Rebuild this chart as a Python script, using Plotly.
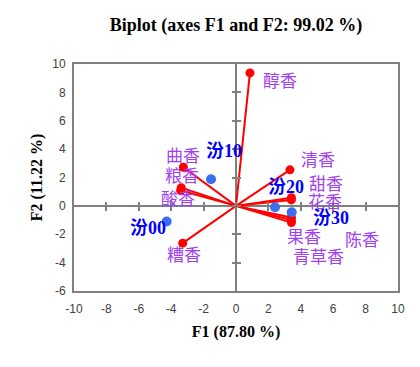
import plotly.graph_objects as go

var_names = ["醇香", "清香", "甜香", "花香", "果香", "陈香", "青草香", "曲香", "粮香", "酸香", "糟香"]
var_f1 = [0.86, 3.33, 3.42, 3.42, 3.42, 3.42, 3.42, -3.25, -3.38, -3.42, -3.29]
var_f2 = [9.37, 2.54, 0.58, 0.42, -0.82, -1.0, -1.18, 2.72, 1.28, 1.08, -2.63]

obs_names = ["汾00", "汾10", "汾20", "汾30"]
obs_f1 = [-4.28, -1.54, 2.41, 3.44]
obs_f2 = [-1.1, 1.88, -0.1, -0.45]

x_ticks = [-10, -8, -6, -4, -2, 0, 2, 4, 6, 8, 10]
x_tick_text = ["-10", "-8", "-6", "-4", "-2", "0", "2", "4", "6", "8", "10"]
y_ticks = [-6, -4, -2, 0, 2, 4, 6, 8, 10]
y_tick_text = ["-6", "-4", "-2", "0", "2", "4", "6", "8", "10"]

# label placement (offsets relative to point, in pixels)
var_label_shift = {
    "醇香": (30, -7), "清香": (28, 11), "甜香": (35, 15), "花香": (34, -1),
    "果香": (13, -18), "陈香": (71, -18), "青草香": (27, -33),
    "曲香": (0, 13), "粮香": (1, 13), "酸香": (-3, -7), "糟香": (1, -10),
}
obs_label_shift = {"汾00": (-19, -7), "汾10": (13, 28), "汾20": (11, 20), "汾30": (39, -6)}

AX = "#808080"
fig = go.Figure()

for n, x, y in zip(var_names, var_f1, var_f2):
    fig.add_trace(go.Scatter(x=[0, x], y=[0, y], mode="lines",
                             line=dict(color="#ff0000", width=2), hoverinfo="skip", showlegend=False))
fig.add_trace(go.Scatter(x=var_f1, y=var_f2, mode="markers",
                         marker=dict(color="#ff0000", size=9), showlegend=False))
fig.add_trace(go.Scatter(x=obs_f1, y=obs_f2, mode="markers",
                         marker=dict(color="#3c6ef0", size=10), showlegend=False))

for n, x, y in zip(var_names, var_f1, var_f2):
    dx, dy = var_label_shift[n]
    fig.add_annotation(x=x, y=y, text=n, showarrow=False, xshift=dx, yshift=dy,
                       font=dict(family="Noto Sans CJK SC", size=17, color="#a040f0"))
for n, x, y in zip(obs_names, obs_f1, obs_f2):
    dx, dy = obs_label_shift[n]
    fig.add_annotation(x=x, y=y, text="<b>" + n + "</b>", showarrow=False, xshift=dx, yshift=dy,
                       font=dict(family="Liberation Serif, Noto Sans CJK SC", size=18, color="#0000ff"))

tickfont = dict(family="Liberation Sans, Arial", size=12, color="#404040")
titlefont = dict(family="Liberation Serif, Times New Roman", size=16, color="black")

fig.update_layout(
    width=412, height=359,
    margin=dict(l=66, r=22, t=56, b=76),
    plot_bgcolor="white", paper_bgcolor="white",
    title=dict(text="<b>Biplot (axes F1 and F2: 99.02 %)</b>", x=0.5534, xanchor="center",
               y=0.954, yanchor="middle",
               font=dict(family="Liberation Serif, Times New Roman", size=18, color="black")),
    xaxis=dict(range=[-10, 10], tickvals=x_ticks, ticktext=x_tick_text, showgrid=False, zeroline=True,
               zerolinecolor=AX, zerolinewidth=2, showline=True, linecolor=AX, linewidth=2,
               mirror=True, ticks="outside", ticklen=6, tickcolor="rgba(0,0,0,0)",
               tickfont=tickfont, automargin=False,
               title=dict(text="<b>F1 (87.80 %)</b>", font=titlefont, standoff=10)),
    yaxis=dict(range=[-6, 10], tickvals=y_ticks, ticktext=y_tick_text, showgrid=False, zeroline=True,
               zerolinecolor=AX, zerolinewidth=2, showline=True, linecolor=AX, linewidth=2,
               mirror=True, ticks="outside", ticklen=4, tickcolor="rgba(0,0,0,0)",
               tickfont=tickfont, automargin=False,
               title=dict(text="<b>F2 (11.22 %)</b>", font=titlefont, standoff=6)),
    xaxis2=dict(overlaying="x", matches="x", anchor="free", position=0.375, tickvals=x_ticks[1:-1],
                ticks="outside", ticklen=4, tickwidth=2, tickcolor=AX, showticklabels=False,
                showgrid=False, zeroline=False, showline=False, automargin=False),
    xaxis3=dict(overlaying="x", matches="x", anchor="free", position=0.375, tickvals=x_ticks[1:-1],
                ticks="inside", ticklen=4, tickwidth=2, tickcolor=AX, showticklabels=False,
                showgrid=False, zeroline=False, showline=False, automargin=False),
    yaxis2=dict(overlaying="y", matches="y", anchor="free", position=0.5, tickvals=y_ticks[1:-1],
                ticks="outside", ticklen=4, tickwidth=2, tickcolor=AX, showticklabels=False,
                showgrid=False, zeroline=False, showline=False, automargin=False),
    yaxis3=dict(overlaying="y", matches="y", anchor="free", position=0.5, tickvals=y_ticks[1:-1],
                ticks="inside", ticklen=4, tickwidth=2, tickcolor=AX, showticklabels=False,
                showgrid=False, zeroline=False, showline=False, automargin=False),
)
# invisible traces to attach the tick overlay axes
fig.add_trace(go.Scatter(x=[0], y=[0], xaxis="x2", yaxis="y2", mode="markers",
                         marker=dict(opacity=0), hoverinfo="skip", showlegend=False))
fig.add_trace(go.Scatter(x=[0], y=[0], xaxis="x3", yaxis="y3", mode="markers",
                         marker=dict(opacity=0), hoverinfo="skip", showlegend=False))

fig.write_html("out.html")
